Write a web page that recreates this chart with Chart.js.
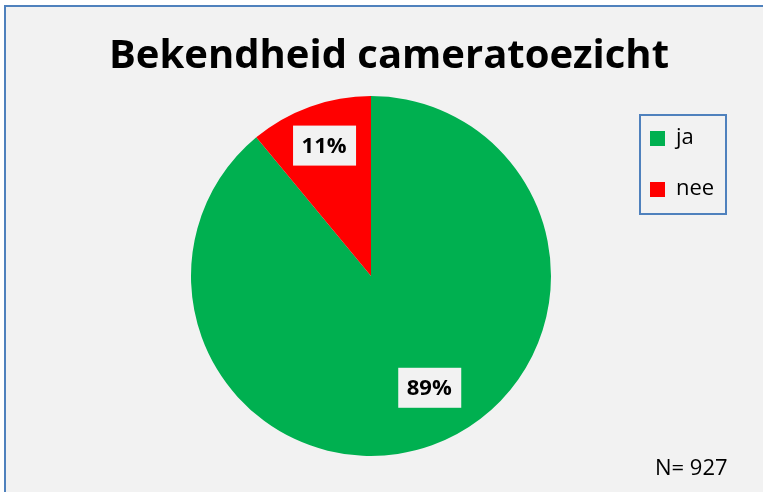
<!DOCTYPE html>
<html>
<head>
<meta charset="utf-8">
<script src="https://cdn.jsdelivr.net/npm/chart.js@4.4.0/dist/chart.umd.min.js"></script>
<style>
  html, body { margin: 0; padding: 0; background: #ffffff; }
  #wrap { width: 763px; height: 492px; position: relative; }
</style>
</head>
<body>
<div id="wrap"><canvas id="piechart" width="763" height="492"></canvas></div>
<script>
const categories = ['ja', 'nee'];
const percentages = [89, 11];
const sliceColors = ['#00b050', '#ff0000'];
const chartTitle = 'Bekendheid cameratoezicht';
const footNote = 'N= 927';

const FONT = '"Open Sans", "Liberation Sans", sans-serif';

// background + outer frame, title, note, legend box, value labels
const decorations = {
  id: 'decorations',
  beforeDraw(chart) {
    const c = chart.ctx;
    c.save();
    c.fillStyle = '#ffffff';
    c.fillRect(0, 0, chart.width, chart.height);
    c.fillStyle = '#f2f2f2';
    c.fillRect(4, 5, chart.width, chart.height);
    c.strokeStyle = '#4f81bd';
    c.lineWidth = 2;
    c.strokeRect(5, 6, chart.width + 10, chart.height + 10);
    c.restore();
  },
  afterDraw(chart) {
    const c = chart.ctx;
    c.save();
    // title
    c.fillStyle = '#000000';
    c.textAlign = 'center';
    c.textBaseline = 'middle';
    c.font = 'bold 40px ' + FONT;
    c.fillText(chartTitle, 389, 57);

    // value labels in boxes
    const meta = chart.getDatasetMeta(0);
    meta.data.forEach((arc, i) => {
      const p = arc.getProps(['x', 'y', 'startAngle', 'endAngle', 'outerRadius'], true);
      const mid = (p.startAngle + p.endAngle) / 2;
      const f = percentages[i] > 50 ? 0.66 : 0.77;
      const x = p.x + Math.cos(mid) * p.outerRadius * f + (percentages[i] > 50 ? 18 : 0);
      const y = p.y + Math.sin(mid) * p.outerRadius * f;
      c.fillStyle = '#f2f2f2';
      c.fillRect(x - 31, y - 20, 63, 40);
      c.fillStyle = '#000000';
      c.font = 'bold 22px ' + FONT;
      c.fillText(percentages[i] + '%', x, y + 1);
    });

    // legend
    c.strokeStyle = '#4f81bd';
    c.lineWidth = 2;
    c.strokeRect(640, 115, 86, 99);
    c.textAlign = 'left';
    c.font = '22px ' + FONT;
    categories.forEach((lab, i) => {
      const y = 138 + i * 51;
      c.fillStyle = sliceColors[i];
      c.fillRect(650, y - 7, 15, 15);
      c.fillStyle = '#000000';
      c.fillText(lab, 676, y);
    });

    // note
    c.font = '22px ' + FONT;
    c.fillText(footNote, 655, 469);
    c.restore();
  }
};

const ctx = document.getElementById('piechart').getContext('2d');
const piechart = new Chart(ctx, {
  type: 'pie',
  data: {
    labels: categories,
    datasets: [{
      data: percentages,
      backgroundColor: sliceColors,
      borderWidth: 0
    }]
  },
  options: {
    responsive: false,
    animation: false,
    layout: {
      padding: { left: 191, right: 212, top: 96, bottom: 36 }
    },
    plugins: {
      legend: { display: false },
      title: { display: false },
      tooltip: { enabled: false }
    }
  },
  plugins: [decorations]
});
</script>
</body>
</html>
